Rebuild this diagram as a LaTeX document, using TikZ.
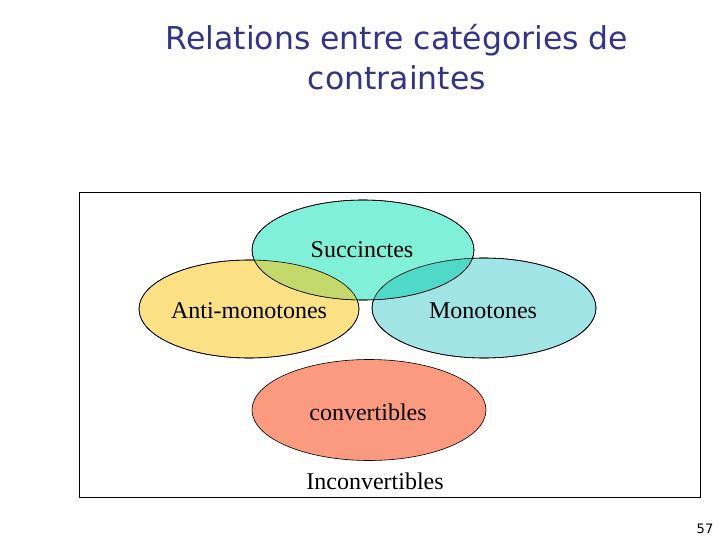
\documentclass[tikz,border=0pt]{standalone}
\usepackage{fontspec}
\setmainfont{Liberation Serif}
\newfontfamily\titlefont{DejaVu Sans}
\usepackage{xcolor}
\usepackage{tikz}
\usetikzlibrary{shapes.geometric}
\definecolor{titlenavy}{HTML}{333388}
\definecolor{succfill}{HTML}{80F0D8}
\definecolor{antifill}{HTML}{FCE084}
\definecolor{monofill}{HTML}{A0E4E6}
\definecolor{convfill}{HTML}{FC9A80}
\definecolor{succanti}{HTML}{C4D86C}
\definecolor{succmono}{HTML}{50D8C8}
\begin{document}
\begin{tikzpicture}[
    x=1pt, y=-1pt,
    cat_ell/.style={ellipse, draw=black, line width=0.6pt, inner sep=0pt},
    plain_lbl/.style={font=\fontsize{24}{28}\selectfont, inner sep=0pt},
    title_lbl/.style={font=\titlefont\fontsize{31.5}{40}\selectfont, text=titlenavy, align=center, inner sep=0pt}
]
\useasboundingbox (0,0) rectangle (720,540);

% Title
\node[title_lbl] (title) at (397,57) {Relations entre catégories de\\contraintes};

% Frame
\node[draw=black, line width=0.8pt, minimum width=621pt, minimum height=305pt, inner sep=0pt] (frame) at (389.5,344.5) {};

% Ellipses
\node[cat_ell, fill=antifill, minimum width=220pt, minimum height=98pt] (anti) at (249,309) {};
\node[cat_ell, fill=monofill, minimum width=224pt, minimum height=100pt] (mono) at (484,308) {};
\node[cat_ell, fill=succfill, minimum width=222pt, minimum height=100pt] (succ) at (363,250) {};
\node[cat_ell, fill=convfill, minimum width=234pt, minimum height=101pt] (conv) at (369,410) {};

% Overlaps
\begin{scope}
  \clip (succ.center) ellipse [x radius=111, y radius=50];
  \fill[succanti] (anti.center) ellipse [x radius=110, y radius=49];
  \fill[succmono] (mono.center) ellipse [x radius=112, y radius=50];
\end{scope}
\draw[line width=0.6pt] (anti.center) ellipse [x radius=110, y radius=49];
\draw[line width=0.6pt] (mono.center) ellipse [x radius=112, y radius=50];
\draw[line width=0.6pt] (succ.center) ellipse [x radius=111, y radius=50];

% Labels
\node[plain_lbl] (succ_lbl) at (362,250) {Succinctes};
\node[plain_lbl] (anti_lbl) at (249,311) {Anti-monotones};
\node[plain_lbl] (mono_lbl) at (483,311) {Monotones};
\node[plain_lbl] (conv_lbl) at (368,412) {convertibles};
\node[plain_lbl] (inconv_lbl) at (375,481) {Inconvertibles};

% Page number
\node[font=\titlefont\fontsize{13}{15}\selectfont, inner sep=0pt] (pagenum) at (705,529) {57};
\end{tikzpicture}
\end{document}
